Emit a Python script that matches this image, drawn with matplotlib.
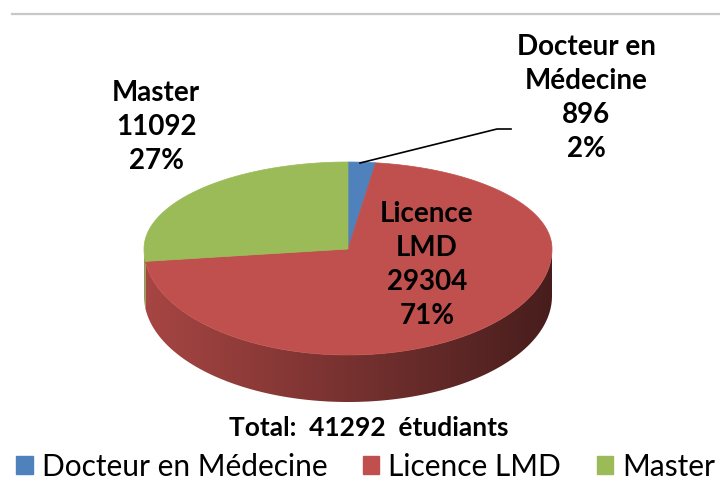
import numpy as np
import matplotlib
matplotlib.use('Agg')
from matplotlib import pyplot as plt
from matplotlib.patches import Polygon, Patch

# Data
labels = ['Docteur en Médecine', 'Licence LMD', 'Master']
values = [896, 29304, 11092]
colors = ['#4F81BD', '#C0504D', '#9BBB59']
slice_text = ['Docteur en\nMédecine', 'Licence\nLMD', 'Master']
total_text = 'Total:  41292  étudiants'

# Geometry of the tilted pie, in pixels
CX, CY = 348, 249
A = 204
B_TOP, B_BOT = 87, 106
DEPTH = 47


def rim(t):
    # t in degrees, clockwise from 12 o'clock
    r = np.radians(t)
    x = CX + A * np.sin(r)
    b = np.where(np.cos(r) >= 0, B_TOP, B_BOT)
    y = CY - b * np.cos(r)
    return x, y


fig = plt.figure(figsize=(7.2, 4.83), dpi=100)
ax = fig.add_axes([0, 0, 1, 1])
ax.set_xlim(0, 720)
ax.set_ylim(483, 0)
ax.axis('off')

# top border line
ax.plot([12, 720], [14, 14], color='#C8C8C8', lw=1.6)

fracs = np.array(values) / sum(values)
bounds = np.concatenate([[0], np.cumsum(fracs) * 360])

# side wall (front half only), gradient image clipped to the wall
x0, x1 = CX - A - 2, CX + A + 2
xs_grad = np.linspace(x0, x1, 400)
fac = 0.87 - (xs_grad - (CX - A)) / (2 * A) * 0.50
for i in range(len(values)):
    t0, t1 = max(bounds[i], 90), min(bounds[i + 1], 270)
    if t1 <= t0:
        continue
    ts = np.linspace(t0, t1, 200)
    xs, ys = rim(ts)
    pts = list(zip(xs, ys)) + list(zip(xs[::-1], ys[::-1] + DEPTH))
    wall = Polygon(pts, closed=True, fc='none', ec='none')
    ax.add_patch(wall)
    rgb = np.array(matplotlib.colors.to_rgb(colors[i]))
    img = np.clip(fac[None, :, None] * rgb[None, None, :], 0, 1)
    im = ax.imshow(img, extent=(x0, x1, CY + B_BOT + DEPTH + 2, CY - 5),
                   aspect='auto', interpolation='bilinear')
    im.set_clip_path(wall)

ax.set_xlim(0, 720)
ax.set_ylim(483, 0)

# top faces
for i in range(len(values)):
    ts = np.linspace(bounds[i], bounds[i + 1], 200)
    xs, ys = rim(ts)
    pts = [(CX, CY)] + list(zip(xs, ys))
    ax.add_patch(Polygon(pts, closed=True, fc=colors[i], ec=colors[i], lw=0.5))

lbl = dict(fontfamily='Lato', fontweight='bold', fontsize=20, ha='center',
           va='center', linespacing=1.37, color='black')
pct = [f'{v / sum(values):.0%}' for v in values]

ax.text(586, 98, f'{slice_text[0]}\n{values[0]}\n{pct[0]}', **lbl)
ax.text(427, 265, f'{slice_text[1]}\n{values[1]}\n{pct[1]}', **lbl)
ax.text(156, 127, f'{slice_text[2]}\n{values[2]}\n{pct[2]}', **lbl)

# leader line for the small slice
ax.plot([360, 497, 511], [163, 129, 129], color='black', lw=1.2)

ax.text(369, 428, total_text, fontfamily='Lato', fontweight='bold',
        fontsize=19, ha='center', va='center')

handles = [Patch(fc=c, ec=c) for c in colors]
ax.legend(handles, labels, loc='center', bbox_to_anchor=(0.508, 0.034), ncol=3,
          frameon=False, prop=dict(family='Lato', size=21.5),
          handlelength=0.55, handleheight=0.55, handletextpad=0.3,
          columnspacing=1.2, borderaxespad=0)

fig.savefig('out.png', dpi=100)
